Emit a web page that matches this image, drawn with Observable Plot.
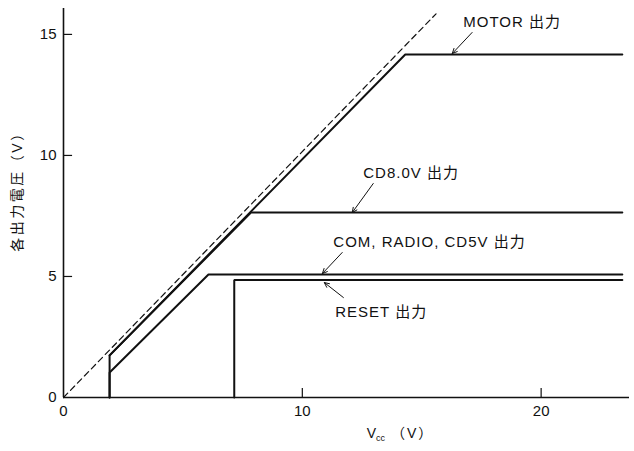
<!DOCTYPE html>
<html>
<head>
<meta charset="utf-8">
<script src="https://cdn.jsdelivr.net/npm/d3@7"></script>
<script src="https://cdn.jsdelivr.net/npm/@observablehq/plot@0.6"></script>
<style>
  html, body { margin: 0; padding: 0; background: #fff; }
  #chart { width: 634px; height: 451px; }
  svg { font-family: "Liberation Sans", "Noto Sans CJK JP", sans-serif; }
</style>
</head>
<body>
<div id="chart"></div>
<script>
// ---- data ----
const xTicks = [0, 10, 20];
const yTicks = [0, 5, 10, 15];

// series: Vcc -> output voltage
const idealX = [0, 15.6];
const idealY = [0, 15.85];

const motorX = [1.93, 1.93, 14.31, 23.4];
const motorY = [0, 1.74, 14.17, 14.17];

const cd8X = [1.93, 7.85, 23.4];
const cd8Y = [1.74, 7.64, 7.64];

const comX = [1.93, 1.93, 6.07, 23.4];
const comY = [0, 1.03, 5.08, 5.08];

const resetX = [7.15, 7.15, 23.4];
const resetY = [0, 4.85, 4.85];

// annotations
const labels = ["MOTOR 出力", "CD8.0V 出力", "COM, RADIO, CD5V 出力", "RESET 出力"];
const labelX = [16.74, 12.55, 11.30, 11.38];
const labelY = [15.5, 9.26, 6.40, 3.51];
const arrowX1 = [17.11, 12.97, 11.67, 11.72];
const arrowY1 = [15.08, 8.84, 5.99, 4.13];
const arrowX2 = [16.28, 12.09, 10.84, 10.92];
const arrowY2 = [14.21, 7.64, 5.12, 4.75];

const yTitle = "各出力電圧（V）";
const xTitle = "Vcc (V)";

// ---- tables built from the arrays ----
const toPts = (xs, ys, s) => xs.map((x, i) => ({x, y: ys[i], s}));
const solid = [
  ...toPts(motorX, motorY, "MOTOR"),
  ...toPts(cd8X, cd8Y, "CD8.0V"),
  ...toPts(comX, comY, "COM"),
  ...toPts(resetX, resetY, "RESET")
];
const ideal = toPts(idealX, idealY, "ideal");
const notes = labels.map((t, i) => ({t, x: labelX[i], y: labelY[i],
  x1: arrowX1[i], y1: arrowY1[i], x2: arrowX2[i], y2: arrowY2[i]}));

const ink = "#111";

const plot = Plot.plot({
  width: 634,
  height: 451,
  marginLeft: 63,
  marginRight: 5,
  marginTop: 8,
  marginBottom: 54,
  style: {fontFamily: '"Liberation Sans", "Noto Sans CJK JP", sans-serif', color: ink, background: "#fff"},
  x: {domain: [0, 23.7]},
  y: {domain: [0, 16.07]},
  marks: [
    Plot.axisX({ticks: xTicks, tickSize: 0, tickPadding: 8, fontSize: 15, label: null}),
    Plot.axisY({ticks: yTicks, tickSize: 0, tickPadding: 7, fontSize: 15, label: null}),
    // inward ticks
    Plot.ruleY(yTicks.filter(d => d > 0), {x1: 0, x2: 0.38, stroke: ink, strokeWidth: 1.2}),
    Plot.ruleX(xTicks.filter(d => d > 0), {y1: 0, y2: 0.37, stroke: ink, strokeWidth: 1.2}),
    // axis lines
    Plot.ruleX([0], {stroke: ink, strokeWidth: 1.6}),
    Plot.ruleY([0], {stroke: ink, strokeWidth: 1.6}),
    // ideal (dashed)
    Plot.line(ideal, {x: "x", y: "y", stroke: ink, strokeWidth: 1.2, strokeDasharray: "6,4"}),
    // outputs
    Plot.line(solid, {x: "x", y: "y", z: "s", stroke: ink, strokeWidth: 2, strokeLinejoin: "miter"}),
    // annotations
    Plot.arrow(notes, {x1: "x1", y1: "y1", x2: "x2", y2: "y2", stroke: ink, strokeWidth: 1, headLength: 8, headAngle: 50}),
    Plot.text(notes, {x: "x", y: "y", text: "t", textAnchor: "start", fontSize: 15, fill: ink}),
    // axis titles
    Plot.text([yTitle], {frameAnchor: "left", textAnchor: "middle", rotate: -90, dx: -46, dy: -15, fontSize: 14, fill: ink}),
    Plot.text([xTitle], {frameAnchor: "bottom", textAnchor: "middle", dx: 54, dy: 40, fontSize: 14, fill: ink})
  ]
});

const root = d3.select(plot);
// letter spacing for the annotation labels and the y title
root.selectAll("text").filter(function() { return labels.includes(this.textContent); })
  .style("letter-spacing", "1px");
root.selectAll("text").filter(function() { return this.textContent === yTitle; })
  .style("letter-spacing", "2.5px");
// subscript for the x title
root.selectAll("text").filter(function() { return this.textContent === xTitle; })
  .each(function() {
    const t = d3.select(this);
    t.text(null);
    t.append("tspan").text("V");
    t.append("tspan").attr("font-size", 9).attr("dy", 3).text("cc");
    t.append("tspan").attr("dy", -3).style("letter-spacing", "2px").text(" （V）");
  });

document.getElementById("chart").appendChild(plot);
</script>
</body>
</html>
